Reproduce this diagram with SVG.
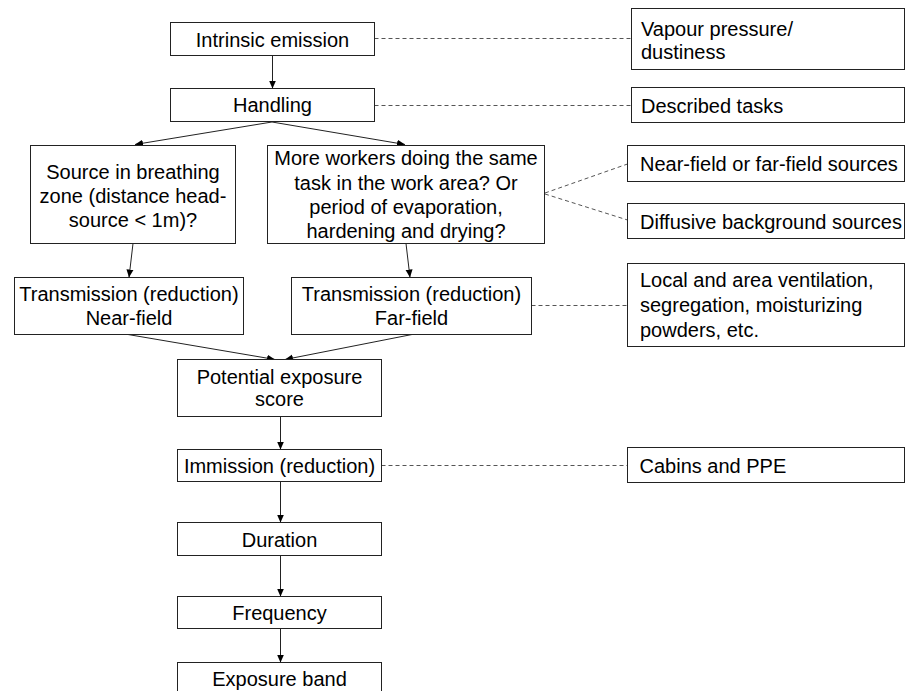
<svg xmlns="http://www.w3.org/2000/svg" width="905" height="691" viewBox="0 0 905 691">
<style>
.box{fill:#fff;stroke:#222;stroke-width:1}
.t{font-family:"Liberation Sans",Arial,sans-serif;font-size:20px;fill:#000}
.c{text-anchor:middle}
.arr{stroke:#222;stroke-width:1;fill:none;marker-end:url(#ah)}
.dash{stroke:#555;stroke-width:1;fill:none;stroke-dasharray:4,3}
</style>
<defs>
<marker id="ah" markerUnits="userSpaceOnUse" markerWidth="8" markerHeight="8" refX="8" refY="4" orient="auto">
<path d="M0,0.5 L8,4 L0,7.5 z" fill="#000"/>
</marker>
</defs>
<rect width="905" height="691" fill="#fff"/>
<g id="connectors">
<line class="arr" x1="272.5" y1="55.5" x2="272.5" y2="88.5"/>
<line class="arr" x1="272" y1="122" x2="135" y2="144.5"/>
<line class="arr" x1="272" y1="122" x2="405" y2="144.5"/>
<line class="arr" x1="133" y1="243.5" x2="129" y2="277.5"/>
<line class="arr" x1="406" y1="243.5" x2="410" y2="277.5"/>
<line class="arr" x1="128" y1="334.5" x2="275" y2="359.5"/>
<line class="arr" x1="412" y1="334.5" x2="285" y2="359.5"/>
<line class="arr" x1="280.5" y1="416.5" x2="280.5" y2="449.5"/>
<line class="arr" x1="280.5" y1="481.5" x2="280.5" y2="522.5"/>
<line class="arr" x1="280.5" y1="555.5" x2="280.5" y2="596.5"/>
<line class="arr" x1="280.5" y1="628.5" x2="280.5" y2="662.5"/>
<line class="dash" x1="374.5" y1="38.5" x2="631.5" y2="38.5"/>
<line class="dash" x1="374.5" y1="105.5" x2="631.5" y2="105.5"/>
<line class="dash" x1="545" y1="193" x2="627.5" y2="164"/>
<line class="dash" x1="545" y1="194" x2="627.5" y2="220"/>
<line class="dash" x1="531.5" y1="305.5" x2="627.5" y2="305.5"/>
<line class="dash" x1="381.5" y1="465.5" x2="627.5" y2="465.5"/>
</g>
<g id="intrinsic">
<rect class="box" x="170.5" y="22.5" width="204" height="33"/>
<text class="t c" x="272.5" y="46.5">Intrinsic emission</text>
</g>
<g id="handling">
<rect class="box" x="170.5" y="88.5" width="204" height="33"/>
<text class="t c" x="272.5" y="112">Handling</text>
</g>
<g id="vapour">
<rect class="box" x="631.5" y="8.5" width="273" height="61"/>
<text class="t" x="641" y="36">Vapour pressure/</text>
<text class="t" x="641" y="59">dustiness</text>
</g>
<g id="described">
<rect class="box" x="631.5" y="87.5" width="273" height="35"/>
<text class="t" x="641" y="112.5">Described tasks</text>
</g>
<g id="source">
<rect class="box" x="30.5" y="145.5" width="205" height="98"/>
<text class="t c" x="133" y="178.5">Source in breathing</text>
<text class="t c" x="133" y="202.5">zone (distance head-</text>
<text class="t c" x="133" y="226.5">source &lt; 1m)?</text>
</g>
<g id="more">
<rect class="box" x="267.5" y="145.5" width="277" height="98"/>
<text class="t c" x="406" y="165">More workers doing the same</text>
<text class="t c" x="406" y="189.5">task in the work area? Or</text>
<text class="t c" x="406" y="214">period of evaporation,</text>
<text class="t c" x="406" y="238">hardening and drying?</text>
</g>
<g id="nearsrc">
<rect class="box" x="627.5" y="145.5" width="277" height="36"/>
<text class="t" x="640" y="170.5">Near-field or far-field sources</text>
</g>
<g id="diffusive">
<rect class="box" x="627.5" y="203.5" width="277" height="35"/>
<text class="t" x="640" y="228.5">Diffusive background sources</text>
</g>
<g id="nearfield">
<rect class="box" x="14.5" y="277.5" width="229" height="57"/>
<text class="t c" x="129" y="300.5">Transmission (reduction)</text>
<text class="t c" x="129" y="325">Near-field</text>
</g>
<g id="farfield">
<rect class="box" x="291.5" y="277.5" width="240" height="57"/>
<text class="t c" x="411.5" y="300.5">Transmission (reduction)</text>
<text class="t c" x="411.5" y="325">Far-field</text>
</g>
<g id="local">
<rect class="box" x="627.5" y="263.5" width="277" height="83"/>
<text class="t" x="640" y="286.5">Local and area ventilation,</text>
<text class="t" x="640" y="311.5">segregation, moisturizing</text>
<text class="t" x="640" y="336.5">powders, etc.</text>
</g>
<g id="potential">
<rect class="box" x="177.5" y="359.5" width="204" height="57"/>
<text class="t c" x="279.5" y="383.5">Potential exposure</text>
<text class="t c" x="279.5" y="406">score</text>
</g>
<g id="immission">
<rect class="box" x="177.5" y="449.5" width="204" height="32"/>
<text class="t c" x="279.5" y="472.5">Immission (reduction)</text>
</g>
<g id="cabins">
<rect class="box" x="627.5" y="447.5" width="277" height="35"/>
<text class="t" x="639.5" y="472.5">Cabins and PPE</text>
</g>
<g id="duration">
<rect class="box" x="177.5" y="522.5" width="204" height="33"/>
<text class="t c" x="279.5" y="546.5">Duration</text>
</g>
<g id="frequency">
<rect class="box" x="177.5" y="596.5" width="204" height="32"/>
<text class="t c" x="279.5" y="620">Frequency</text>
</g>
<g id="exposure">
<rect class="box" x="177.5" y="662.5" width="204" height="40"/>
<text class="t c" x="279.5" y="685.5">Exposure band</text>
</g>
</svg>
